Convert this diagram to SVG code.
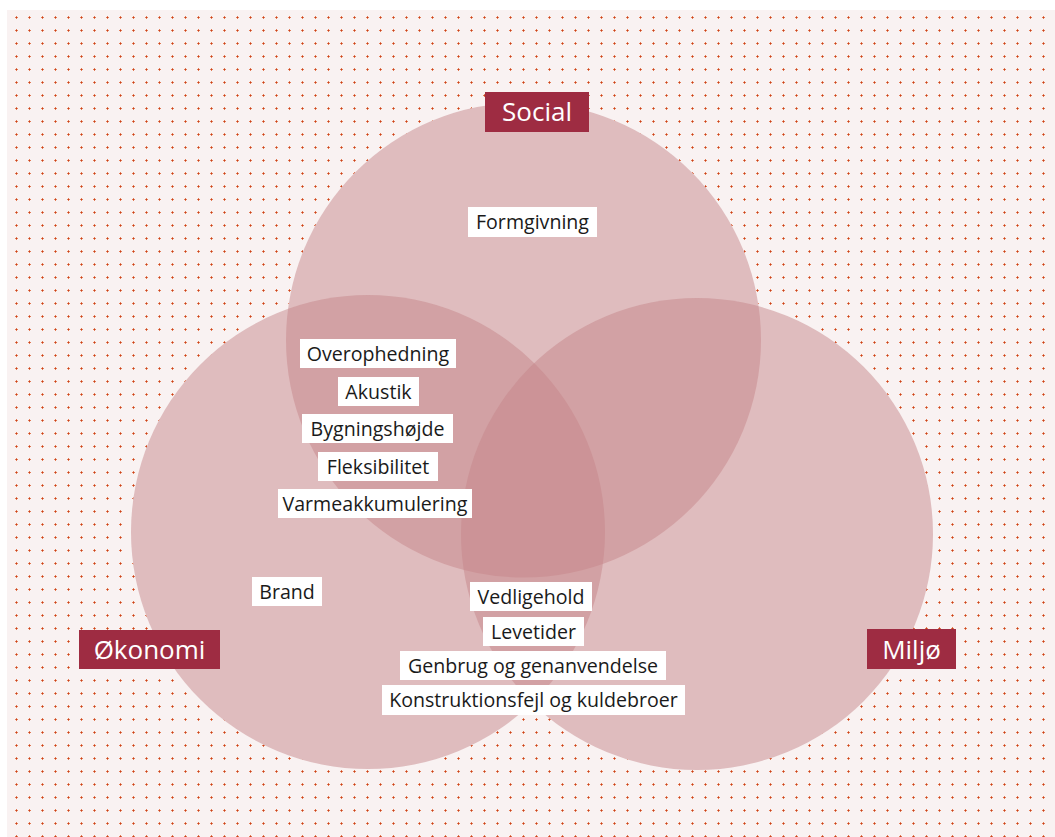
<svg xmlns="http://www.w3.org/2000/svg" width="1055" height="837" viewBox="0 0 1055 837">
<defs>
<pattern id="dots" patternUnits="userSpaceOnUse" x="10" y="11" width="13" height="13">
<rect x="5" y="6" width="3" height="1" fill="#e07a55"/>
<rect x="6" y="5" width="1" height="3" fill="#e07a55"/>
<rect x="6" y="6" width="1" height="1" fill="#c8401e"/>
</pattern>
<style>
.base{fill:#f9f2f2}
.circ{fill:#c5868a;fill-opacity:0.5}
.lab{fill:#9e2c42}
.labt{font-family:"Open Sans","Liberation Sans",sans-serif;font-size:26px;fill:#ffffff;text-anchor:middle}
.box{fill:#ffffff}
.bt{font-family:"Open Sans","Liberation Sans",sans-serif;font-size:19.6px;fill:#1a1a1a;text-anchor:middle}
</style>
</defs>
<rect x="0" y="0" width="1055" height="837" fill="#ffffff"/>
<rect x="7" y="10" width="1048" height="827" fill="#f9f2f2"/>
<rect x="7" y="10" width="1048" height="827" fill="url(#dots)"/>
<g id="circles">
<circle class="base" cx="523.5" cy="340" r="237.5"/>
<circle class="base" cx="368" cy="532" r="237"/>
<circle class="base" cx="697" cy="534" r="236"/>
<circle id="c-social" class="circ" cx="523.5" cy="340" r="237.5"/>
<circle id="c-okonomi" class="circ" cx="368" cy="532" r="237"/>
<circle id="c-miljo" class="circ" cx="697" cy="534" r="236"/>
</g>
<g id="connectors"></g>
<g id="social"><rect class="lab" x="485" y="92" width="104" height="40"/><text class="labt" x="537" y="121">Social</text></g>
<g id="okonomi"><rect class="lab" x="79" y="630" width="141" height="39"/><text class="labt" x="149.5" y="659">Økonomi</text></g>
<g id="miljo"><rect class="lab" x="867" y="629" width="89" height="40"/><text class="labt" x="911.5" y="659">Miljø</text></g>
<g id="formgivning"><rect class="box" x="468" y="207" width="129" height="30"/><text class="bt" x="532.5" y="229">Formgivning</text></g>
<g id="overophedning"><rect class="box" x="300" y="339" width="156" height="29"/><text class="bt" x="378" y="361">Overophedning</text></g>
<g id="akustik"><rect class="box" x="338" y="377" width="81" height="29"/><text class="bt" x="378.5" y="399">Akustik</text></g>
<g id="bygningshojde"><rect class="box" x="302" y="414" width="151" height="29"/><text class="bt" x="377.5" y="436">Bygningshøjde</text></g>
<g id="fleksibilitet"><rect class="box" x="318" y="452" width="120" height="29"/><text class="bt" x="378" y="474">Fleksibilitet</text></g>
<g id="varmeakkumulering"><rect class="box" x="278" y="489" width="194" height="29"/><text class="bt" x="375" y="511">Varmeakkumulering</text></g>
<g id="brand"><rect class="box" x="252" y="577" width="70" height="29"/><text class="bt" x="287" y="599">Brand</text></g>
<g id="vedligehold"><rect class="box" x="470" y="582" width="122" height="29"/><text class="bt" x="531" y="604">Vedligehold</text></g>
<g id="levetider"><rect class="box" x="483" y="617" width="101" height="29"/><text class="bt" x="533.5" y="639">Levetider</text></g>
<g id="genbrug"><rect class="box" x="400" y="651" width="266" height="29"/><text class="bt" x="533" y="673">Genbrug og genanvendelse</text></g>
<g id="konstruktionsfejl"><rect class="box" x="382" y="685" width="303" height="30"/><text class="bt" x="533.5" y="707">Konstruktionsfejl og kuldebroer</text></g>
</svg>
